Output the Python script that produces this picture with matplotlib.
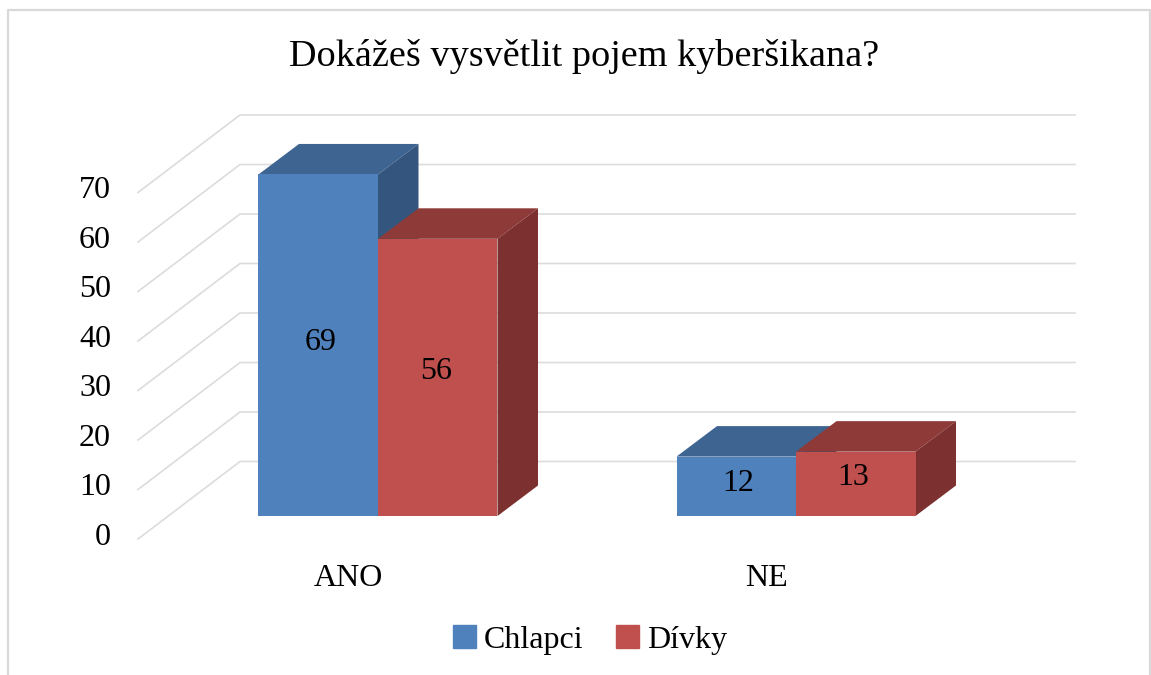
import matplotlib
matplotlib.use('Agg')
from matplotlib import pyplot as plt
from matplotlib.patches import Patch

categories = ["ANO", "NE"]
chlapci = [69, 12]
divky = [56, 13]
y_ticks = [0, 10, 20, 30, 40, 50, 60, 70]
title = "Dokážeš vysvětlit pojem kyberšikana?"

W, H = 1151, 675
PX_X = 418.0    # pixels per category
PX_Y = 4.95     # pixels per value unit
X0, Y0 = 378.0, 516.0   # pixel of first category centre / value 0 on bar front

BAR_W = 119.5 / PX_X
DX, DY = 40.5 / PX_X, 30.5 / PX_Y     # bar depth
WF_X, WF_Y = 138 / 1.0, -23 / PX_Y    # wall front corner (x is px)
WB_X, WB_Y = 240 / 1.0, 54.5 / PX_Y   # wall back corner
GRID_END = 1075

plt.rcParams['font.family'] = ['Liberation Serif', 'DejaVu Serif']

fig = plt.figure(figsize=(W / 100, H / 100), dpi=100)
ax = fig.add_axes([0, 0, 1, 1])
ax.set_xlim(-X0 / PX_X, (W - X0) / PX_X)
ax.set_ylim(-(H - Y0) / PX_Y, Y0 / PX_Y)
ax.axis('off')


def cx(px):
    return (px - X0) / PX_X


# frame, open at the bottom
fx0, fx1 = cx(8.5), cx(1150)
fy0, fy1 = ax.get_ylim()[0], (Y0 - 10) / PX_Y
ax.plot([fx0, fx0, fx1, fx1], [fy0, fy1, fy1, fy0], color='#d9d9d9', lw=1.6, zorder=1)

# gridlines, side wall and back wall
for t in y_ticks:
    ax.plot([cx(WF_X), cx(WB_X), cx(GRID_END)], [t + WF_Y, t + WB_Y, t + WB_Y],
            color='#dcdcdc', lw=1.2, zorder=1)
    ax.text(cx(111), t + WF_Y + 0.4, str(t), ha='right', va='center', fontsize=23, color='black')


def box(x, v, front, top, side, z):
    ax.bar(x, v, BAR_W, align='edge', color=front, zorder=z + 0.2)
    ax.fill([x, x + BAR_W, x + BAR_W + DX, x + DX], [v, v, v + DY, v + DY], color=top, lw=0, zorder=z)
    ax.fill([x + BAR_W, x + BAR_W + DX, x + BAR_W + DX, x + BAR_W], [0, DY, v + DY, v], color=side, lw=0, zorder=z)


for i, cat in enumerate(categories):
    box(i - BAR_W, chlapci[i], '#4f81bd', '#3e6491', '#34567e', 3)
    box(i, divky[i], '#c0504d', '#8e3a38', '#7c302f', 4)
    ax.text(i - BAR_W / 2 + 0.005, chlapci[i] / 2 + 0.6, str(chlapci[i]), ha='center', va='center', fontsize=23, zorder=6)
    ax.text(i + BAR_W / 2 - 0.005, divky[i] / 2 + 1.2, str(divky[i]), ha='center', va='center', fontsize=23, zorder=6)
    ax.text(i - 0.07, (Y0 - 578) / PX_Y, cat, ha='center', va='center', fontsize=23)

ax.text(cx(584.5), (Y0 - 57) / PX_Y, title, ha='center', va='center', fontsize=27.5)

handles = [Patch(color='#4f81bd', label='Chlapci'), Patch(color='#c0504d', label='Dívky')]
ax.legend(handles=handles, ncol=2, frameon=False, fontsize=23, loc='center',
          bbox_to_anchor=(590 / W, 1 - 640 / H), handlelength=0.72, handleheight=0.72,
          handletextpad=0.25, columnspacing=1.0, borderpad=0, labelspacing=0)

fig.savefig('out.png', dpi=100)
